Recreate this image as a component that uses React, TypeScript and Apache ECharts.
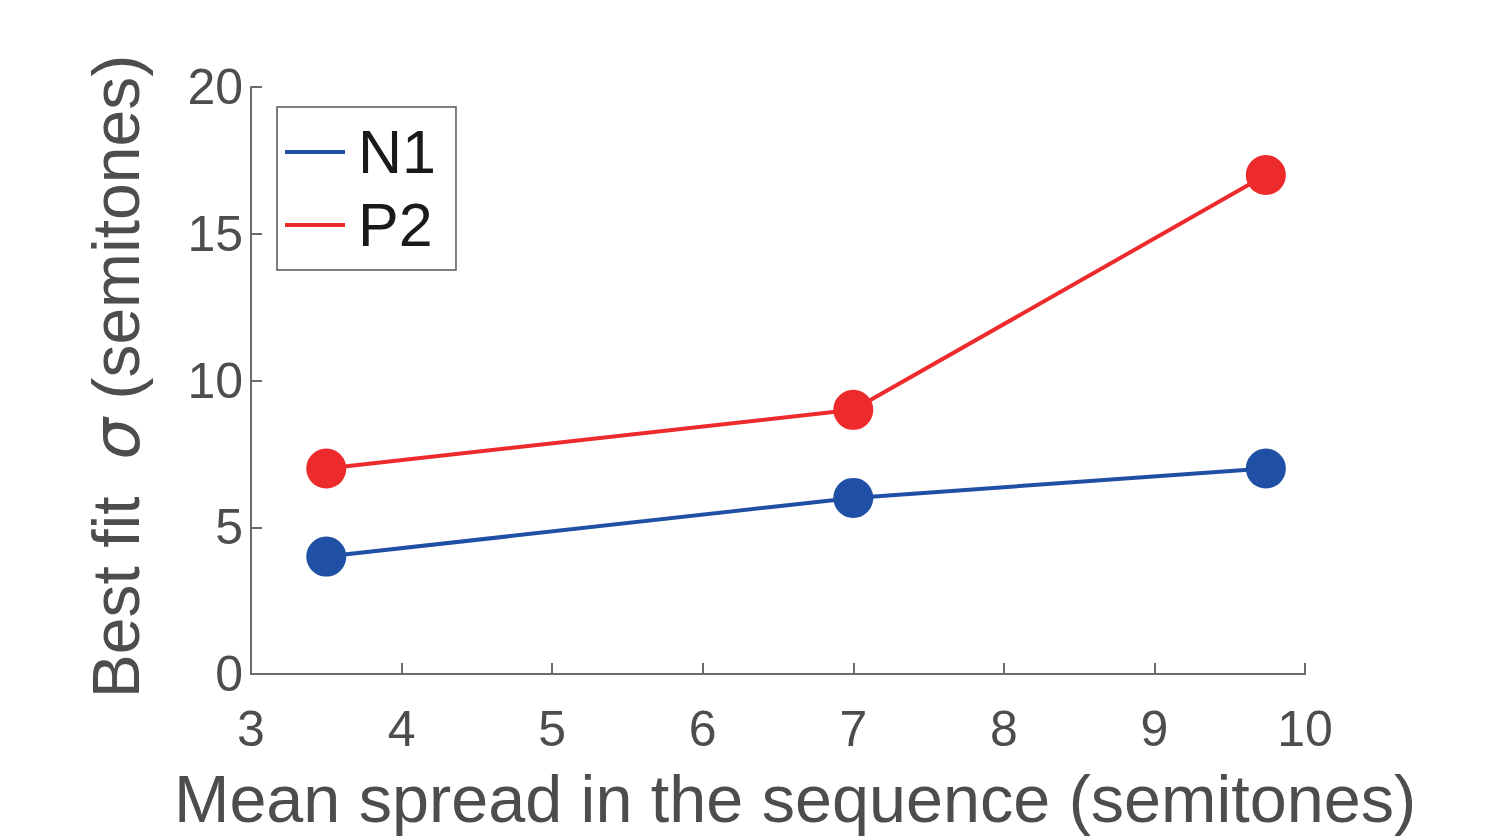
import React, { useEffect, useRef } from "react";
import * as echarts from "echarts";

const xValues = [3.5, 7, 9.74];
const n1Values = [4, 6, 7];
const p2Values = [7, 9, 17];
const xTicks = [3, 4, 5, 6, 7, 8, 9, 10];
const yTicks = [0, 5, 10, 15, 20];
const seriesNames = ["N1", "P2"];

const FONT = "'Liberation Sans', Arial, Helvetica, sans-serif";
const AXIS_COLOR = "#6b6b6b";
const LABEL_COLOR = "#4d4d4d";
const BLUE = "#1f50a5";
const RED = "#ee2b2c";

export default function App() {
  const ref = useRef<HTMLDivElement>(null);
  useEffect(() => {
    if (!ref.current) return;
    const chart = echarts.init(ref.current, null, { renderer: "svg" });
    const pair = (ys: number[]) => xValues.map((x, i) => [x, ys[i]]);
    chart.setOption({
      animation: false,
      backgroundColor: "#ffffff",
      textStyle: { fontFamily: FONT },
      grid: { left: 251, top: 87, right: 194, bottom: 156, containLabel: false },
      legend: {
        left: 277,
        top: 107,
        orient: "vertical",
        data: seriesNames.map((n) => ({ name: n, icon: "rect" })),
        itemWidth: 60,
        itemHeight: 4,
        itemGap: 7,
        padding: [12, 20, 12, 8],
        borderColor: "#555555",
        borderWidth: 1.5,
        borderRadius: 0,
        textStyle: {
          fontSize: 61,
          color: "#1a1a1a",
          fontFamily: FONT,
          lineHeight: 66,
          padding: [0, 0, 0, 8],
        },
      },
      xAxis: {
        type: "value",
        min: xTicks[0],
        max: xTicks[xTicks.length - 1],
        interval: 1,
        name: "Mean spread in the sequence (semitones)",
        nameLocation: "middle",
        nameGap: 91,
        nameTextStyle: { fontSize: 66.5, color: LABEL_COLOR, fontFamily: FONT, padding: [0, 0, 0, 34] },
        axisLine: { show: true, onZero: false, lineStyle: { color: AXIS_COLOR, width: 2 } },
        axisTick: { show: true, inside: true, length: 11, lineStyle: { color: AXIS_COLOR, width: 2 } },
        axisLabel: { fontSize: 50, color: LABEL_COLOR, margin: 30, fontFamily: FONT },
        splitLine: { show: false },
      },
      yAxis: {
        type: "value",
        min: yTicks[0],
        max: yTicks[yTicks.length - 1],
        interval: 5,
        name: "Best fit  {i|σ} (semitones)",
        nameLocation: "middle",
        nameGap: 102,
        nameTextStyle: {
          fontSize: 66,
          color: LABEL_COLOR,
          fontFamily: FONT,
          padding: [0, 0, 0, 8],
          rich: { i: { fontSize: 66, fontStyle: "italic", color: LABEL_COLOR, fontFamily: "'DejaVu Sans', sans-serif" } },
        },
        axisLine: { show: true, onZero: false, lineStyle: { color: AXIS_COLOR, width: 2 } },
        axisTick: { show: true, inside: true, length: 11, lineStyle: { color: AXIS_COLOR, width: 2 } },
        axisLabel: { fontSize: 50, color: LABEL_COLOR, margin: 8, fontFamily: FONT },
        splitLine: { show: false },
      },
      series: [
        {
          name: seriesNames[0],
          type: "line",
          data: pair(n1Values),
          symbol: "circle",
          symbolSize: 40,
          color: BLUE,
          lineStyle: { width: 4, color: BLUE },
          itemStyle: { color: BLUE },
        },
        {
          name: seriesNames[1],
          type: "line",
          data: pair(p2Values),
          symbol: "circle",
          symbolSize: 40,
          color: RED,
          lineStyle: { width: 4, color: RED },
          itemStyle: { color: RED },
        },
      ],
    });
    return () => chart.dispose();
  }, []);
  return (
    <div
      ref={ref}
      style={{ position: "fixed", left: 0, top: 0, width: 1499, height: 837, background: "#fff" }}
    />
  );
}
